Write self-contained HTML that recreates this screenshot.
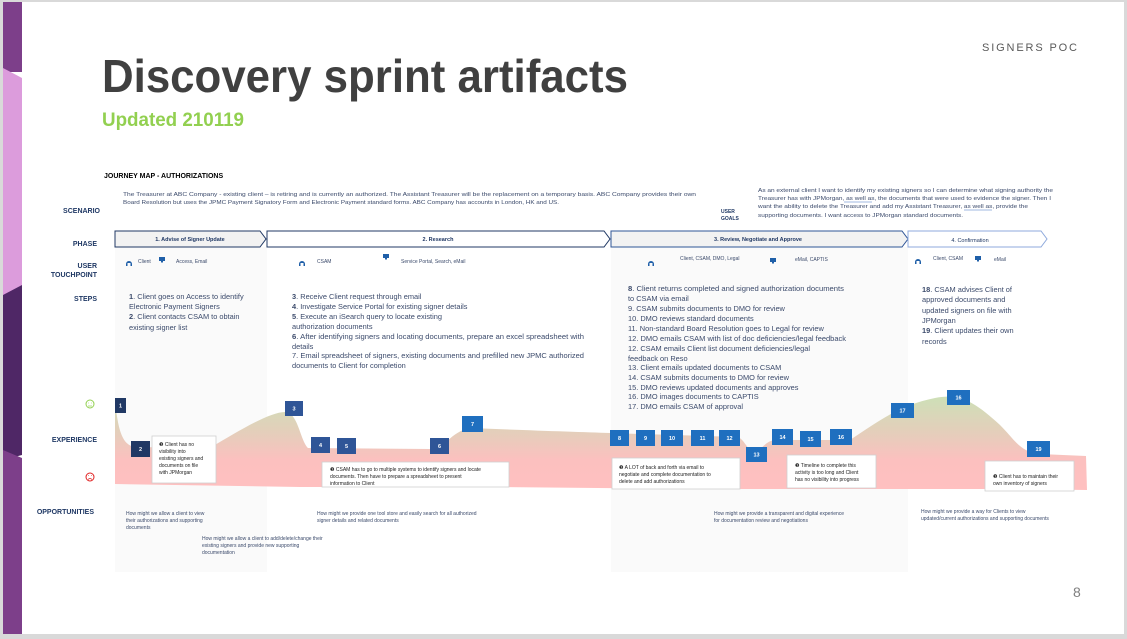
<!DOCTYPE html>
<html><head><meta charset="utf-8"><style>
html,body{margin:0;padding:0;background:#fff;}
svg{display:block;font-family:"Liberation Sans",sans-serif;}
.lbl{font-size:7px;font-weight:bold;fill:#1f3864;text-anchor:end;}
.st{font-size:7.4px;fill:#3b4a6b;}
.sm{font-size:5.2px;fill:#3b4a6b;}
.tp{font-size:5px;fill:#3b4a6b;}
.num{font-size:5.5px;fill:#fff;font-weight:bold;text-anchor:middle;}
.co{font-size:5px;fill:#222;}
</style></head><body>
<svg width="1127" height="639" viewBox="0 0 1127 639" xmlns="http://www.w3.org/2000/svg">
<defs>
<linearGradient id="exp" x1="0" y1="0" x2="0" y2="1" gradientUnits="userSpaceOnUse" y1v="0">
</linearGradient>
<linearGradient id="g" x1="0" y1="390" x2="0" y2="490" gradientUnits="userSpaceOnUse">
<stop offset="0" stop-color="#c9e3b6"/><stop offset="0.45" stop-color="#e6cdbb"/><stop offset="0.7" stop-color="#fcc0bf"/><stop offset="1" stop-color="#ffc0c0"/>
</linearGradient>
</defs>
<rect x="0" y="0" width="1127" height="639" fill="#d9d9d9"/>
<rect x="3" y="2" width="1121" height="632" fill="#fff"/>
<!-- left strip -->
<rect x="3" y="2" width="19" height="70" fill="#7d3f8a"/>
<polygon points="3,68 22,78 22,290 3,295" fill="#dc9cdc"/>
<polygon points="3,295 22,285 22,455 3,460" fill="#4f2766"/>
<polygon points="3,450 22,458 22,634 3,634" fill="#7d3f8a"/>
<!-- columns -->
<rect x="115" y="247" width="152" height="325" fill="#fafafa"/>
<rect x="611" y="247" width="297" height="325" fill="#fafafa"/>
<!-- title -->
<text x="102" y="92" font-size="46" font-weight="bold" fill="#404040" textLength="526" lengthAdjust="spacingAndGlyphs">Discovery sprint artifacts</text>
<text x="102" y="126" font-size="19" font-weight="bold" fill="#92d050" textLength="142" lengthAdjust="spacingAndGlyphs">Updated 210119</text>
<text x="982" y="51" font-size="11" fill="#595959" letter-spacing="2" textLength="97">SIGNERS POC</text>
<text x="1073" y="597" font-size="14" fill="#7f7f7f">8</text>
<!-- labels -->
<text x="104" y="178" font-size="7" font-weight="bold" fill="#000">JOURNEY MAP  - AUTHORIZATIONS</text>
<text class="lbl" x="100" y="213">SCENARIO</text>
<text class="lbl" x="97" y="246">PHASE</text>
<text class="lbl" x="97" y="268">USER</text>
<text class="lbl" x="97" y="277">TOUCHPOINT</text>
<text class="lbl" x="97" y="301">STEPS</text>
<text class="lbl" x="97" y="442">EXPERIENCE</text>
<text class="lbl" x="94" y="514">OPPORTUNITIES</text>
<!-- smileys -->
<circle cx="90" cy="404" r="4" fill="none" stroke="#92d050" stroke-width="1"/>
<line x1="88" y1="403" x2="88.5" y2="403" stroke="#92d050"/><line x1="91.5" y1="403" x2="92" y2="403" stroke="#92d050"/><line x1="88" y1="406" x2="92" y2="406" stroke="#92d050" stroke-width="0.7"/>
<circle cx="90" cy="477" r="4" fill="none" stroke="#e02020" stroke-width="1"/>
<path d="M88,479.5 Q90,477.5 92,479.5" fill="none" stroke="#e02020" stroke-width="0.7"/>
<line x1="88" y1="475.5" x2="88.5" y2="475.5" stroke="#e02020"/><line x1="91.5" y1="475.5" x2="92" y2="475.5" stroke="#e02020"/>
<!-- scenario -->
<text class="sm" x="123" y="196" textLength="573" lengthAdjust="spacingAndGlyphs">The Treasurer at  ABC Company - existing client – is retiring and is currently an authorized.  The Assistant  Treasurer will be the replacement on a temporary basis.  ABC Company provides their own</text>
<text class="sm" x="123" y="204" textLength="436" lengthAdjust="spacingAndGlyphs">Board Resolution but uses the JPMC Payment Signatory Form and Electronic Payment standard forms.  ABC Company has accounts in London, HK and US.</text>
<text x="721" y="213" font-size="5" font-weight="bold" fill="#1f3864">USER</text>
<text x="721" y="220" font-size="5" font-weight="bold" fill="#1f3864">GOALS</text>
<text class="sm" x="758" y="192" textLength="295" lengthAdjust="spacingAndGlyphs">As an external client I want to identify my existing signers so I can determine what signing authority the</text>
<text class="sm" x="758" y="200" textLength="293" lengthAdjust="spacingAndGlyphs">Treasurer has with JPMorgan, as well as, the documents that were used to evidence the signer.  Then I</text>
<text class="sm" x="758" y="208" textLength="270" lengthAdjust="spacingAndGlyphs">want the ability to delete the Treasurer and add my Assistant Treasurer, as well as, provide the</text>
<text class="sm" x="758" y="217" textLength="205" lengthAdjust="spacingAndGlyphs">supporting documents.  I want access to JPMorgan standard documents.</text>
<line x1="844" y1="202" x2="872" y2="202" stroke="#4472c4" stroke-width="0.6"/>
<line x1="964" y1="210" x2="992" y2="210" stroke="#4472c4" stroke-width="0.6"/>
<!-- phases -->
<polygon points="115,231 260,231 266,239 260,247 115,247" fill="#f2f2f2" stroke="#203864" stroke-width="1"/>
<polygon points="267,231 604,231 610,239 604,247 267,247" fill="#fff" stroke="#203864" stroke-width="1"/>
<polygon points="611,231 902,231 908,239 902,247 611,247" fill="#f2f2f2" stroke="#2f5597" stroke-width="1"/>
<polygon points="908,231 1041,231 1047,239 1041,247 908,247" fill="#fff" stroke="#8faadc" stroke-width="1"/>
<text x="190" y="241" font-size="5.5" font-weight="bold" fill="#203864" text-anchor="middle">1. Advise of Signer Update</text>
<text x="438" y="241" font-size="5.5" font-weight="bold" fill="#203864" text-anchor="middle">2. Research</text>
<text x="758" y="241" font-size="5.5" font-weight="bold" fill="#203864" text-anchor="middle">3. Review, Negotiate and Approve</text>
<text x="970" y="242" font-size="5.5" fill="#203864" text-anchor="middle">4. Confirmation</text>
<!-- touchpoints -->
<g fill="#1f5fa8">
<path d="M126,264 a3,3 0 0 1 6,0 v2 h-1.5 v-3 h-3 v3 h-1.5z"/>
<rect x="159" y="257" width="6" height="4"/><rect x="161" y="261" width="2" height="1.5"/>
<path d="M299,264 a3,3 0 0 1 6,0 v2 h-1.5 v-3 h-3 v3 h-1.5z"/>
<rect x="383" y="254" width="6" height="4"/><rect x="385" y="258" width="2" height="1.5"/>
<path d="M648,264 a3,3 0 0 1 6,0 v2 h-1.5 v-3 h-3 v3 h-1.5z"/>
<rect x="770" y="258" width="6" height="4"/><rect x="772" y="262" width="2" height="1.5"/>
<path d="M915,262 a3,3 0 0 1 6,0 v2 h-1.5 v-3 h-3 v3 h-1.5z"/>
<rect x="975" y="256" width="6" height="4"/><rect x="977" y="260" width="2" height="1.5"/>
</g>
<text class="tp" x="138" y="263">Client</text>
<text class="tp" x="176" y="263">Access, Email</text>
<text class="tp" x="317" y="263">CSAM</text>
<text class="tp" x="401" y="263">Service Portal, Search, eMail</text>
<text class="tp" x="680" y="260">Client, CSAM, DMO, Legal</text>
<text class="tp" x="795" y="261">eMail, CAPTIS</text>
<text class="tp" x="933" y="260">Client, CSAM</text>
<text class="tp" x="994" y="261">eMail</text>
<!-- steps -->
<g class="st">
<text x="129" y="299"><tspan font-weight="bold">1</tspan>. Client goes on Access to identify</text>
<text x="129" y="309">Electronic Payment Signers</text>
<text x="129" y="319"><tspan font-weight="bold">2</tspan>. Client contacts CSAM to obtain</text>
<text x="129" y="330">existing signer list</text>
<text x="292" y="299"><tspan font-weight="bold">3</tspan>. Receive Client  request through email</text>
<text x="292" y="309"><tspan font-weight="bold">4</tspan>. Investigate Service Portal for existing signer details</text>
<text x="292" y="319"><tspan font-weight="bold">5</tspan>. Execute an iSearch query to locate existing</text>
<text x="292" y="329">authorization documents</text>
<text x="292" y="339" textLength="292" lengthAdjust="spacingAndGlyphs"><tspan font-weight="bold">6</tspan>. After identifying signers and locating documents, prepare an excel spreadsheet with</text>
<text x="292" y="349">details</text>
<text x="292" y="358" textLength="292" lengthAdjust="spacingAndGlyphs">7.  Email spreadsheet of signers, existing documents and prefilled new JPMC authorized</text>
<text x="292" y="368">documents to Client for completion</text>
<text x="628" y="291" textLength="216" lengthAdjust="spacingAndGlyphs"><tspan font-weight="bold">8</tspan>. Client returns completed and signed authorization documents</text>
<text x="628" y="301">to CSAM via email</text>
<text x="628" y="311">9.  CSAM submits documents to DMO for review</text>
<text x="628" y="321">10. DMO reviews  standard documents</text>
<text x="628" y="331">11. Non-standard Board Resolution goes to Legal for review</text>
<text x="628" y="341" textLength="218" lengthAdjust="spacingAndGlyphs">12. DMO emails CSAM with list of doc deficiencies/legal feedback</text>
<text x="628" y="351">12. CSAM emails  Client  list  document deficiencies/legal</text>
<text x="628" y="361">feedback on Reso</text>
<text x="628" y="370">13. Client emails updated documents to CSAM</text>
<text x="628" y="380">14. CSAM submits documents to DMO for review</text>
<text x="628" y="390">15. DMO reviews  updated documents and approves</text>
<text x="628" y="399">16. DMO images documents to CAPTIS</text>
<text x="628" y="409">17. DMO emails CSAM of approval</text>
<text x="922" y="292"><tspan font-weight="bold">18</tspan>. CSAM advises Client of</text>
<text x="922" y="302">approved documents and</text>
<text x="922" y="313">updated signers on file with</text>
<text x="922" y="323">JPMorgan</text>
<text x="922" y="333"><tspan font-weight="bold">19</tspan>. Client updates their own</text>
<text x="922" y="344">records</text>
</g>
<!-- experience curve -->
<path d="M115,400 C118,430 122,445 135,447 L210,448 C240,430 270,412 285,412 C298,412 300,440 308,448 L430,449 C445,449 450,432 470,428 C520,430 580,432 610,433 L738,437 C745,440 748,452 755,452 C762,450 765,441 775,440 L850,440 C880,420 900,405 935,398 C960,393 975,402 1000,425 C1015,440 1020,452 1040,454 L1086,456 L1087,490 L1000,489 L700,489 L500,487 L300,487 L115,484 Z" fill="url(#g)"/>
<!-- boxes -->
<g>
<rect x="115" y="398" width="11" height="15" fill="#203864"/><text class="num" x="120.5" y="407.5">1</text>
<rect x="131" y="441" width="19" height="16" fill="#203864"/><text class="num" x="140.5" y="451">2</text>
<rect x="285" y="401" width="18" height="15" fill="#2f5597"/><text class="num" x="294" y="410.5">3</text>
<rect x="311" y="437" width="19" height="16" fill="#2f5597"/><text class="num" x="320.5" y="447">4</text>
<rect x="337" y="438" width="19" height="16" fill="#2f5597"/><text class="num" x="346.5" y="448">5</text>
<rect x="430" y="438" width="19" height="16" fill="#2f5597"/><text class="num" x="439.5" y="448">6</text>
<rect x="462" y="416" width="21" height="16" fill="#1f6fbf"/><text class="num" x="472.5" y="426">7</text>
<rect x="610" y="430" width="19" height="16" fill="#1f6fbf"/><text class="num" x="619.5" y="440">8</text>
<rect x="636" y="430" width="19" height="16" fill="#1f6fbf"/><text class="num" x="645.5" y="440">9</text>
<rect x="661" y="430" width="22" height="16" fill="#1f6fbf"/><text class="num" x="672" y="440">10</text>
<rect x="691" y="430" width="23" height="16" fill="#1f6fbf"/><text class="num" x="702.5" y="440">11</text>
<rect x="719" y="430" width="21" height="16" fill="#1f6fbf"/><text class="num" x="729.5" y="440">12</text>
<rect x="746" y="447" width="21" height="15" fill="#1f6fbf"/><text class="num" x="756.5" y="456.5">13</text>
<rect x="772" y="429" width="21" height="16" fill="#1f6fbf"/><text class="num" x="782.5" y="439">14</text>
<rect x="800" y="431" width="21" height="16" fill="#1f6fbf"/><text class="num" x="810.5" y="441">15</text>
<rect x="830" y="429" width="22" height="16" fill="#1f6fbf"/><text class="num" x="841" y="439">16</text>
<rect x="891" y="403" width="23" height="15" fill="#1f6fbf"/><text class="num" x="902.5" y="412.5">17</text>
<rect x="947" y="390" width="23" height="15" fill="#1f6fbf"/><text class="num" x="958.5" y="399.5">16</text>
<rect x="1027" y="441" width="23" height="16" fill="#1f6fbf"/><text class="num" x="1038.5" y="451">19</text>
</g>
<!-- callouts -->
<g fill="#fff" stroke="#d0d0d0" stroke-width="0.8">
<rect x="152" y="436" width="64" height="47"/>
<rect x="322" y="462" width="187" height="25"/>
<rect x="612" y="458" width="128" height="31"/>
<rect x="787" y="455" width="89" height="33"/>
<rect x="985" y="461" width="89" height="30"/>
</g>
<g class="co">
<text x="159" y="446">❸ Client has no</text><text x="159" y="453">visibility into</text><text x="159" y="460">existing signers and</text><text x="159" y="467">documents on file</text><text x="159" y="474">with JPMorgan</text>
<text x="330" y="471">❸ CSAM has to go to multiple systems to identify signers and locate</text><text x="330" y="478">documents.  Then have to prepare a spreadsheet to present</text><text x="330" y="485">information to Client</text>
<text x="619" y="469">❸ A LOT of back and forth via email to</text><text x="619" y="476">negotiate and complete documentation to</text><text x="619" y="483">delete and add authorizations</text>
<text x="795" y="467">❸ Timeline to complete this</text><text x="795" y="474">activity is too long and Client</text><text x="795" y="481">has no visibility into progress</text>
<text x="993" y="478">❸ Client has to maintain their</text><text x="993" y="485">own inventory of signers</text>
</g>
<!-- opportunities -->
<g class="tp">
<text x="126" y="515">How might we allow a client to view</text><text x="126" y="522">their authorizations and supporting</text><text x="126" y="529">documents</text>
<text x="202" y="540">How might we allow a client to add/delete/change their</text><text x="202" y="547">existing signers and provide new supporting</text><text x="202" y="554">documentation</text>
<text x="317" y="515">How might we provide one tool store and easily search for all authorized</text><text x="317" y="522">signer details and related documents</text>
<text x="714" y="515">How might we provide a transparent and digital experience</text><text x="714" y="522">for documentation review and negotiations</text>
<text x="921" y="513">How might we provide a way for Clients to view</text><text x="921" y="520">updated/current authorizations and supporting documents</text>
</g>
</svg>
</body></html>
